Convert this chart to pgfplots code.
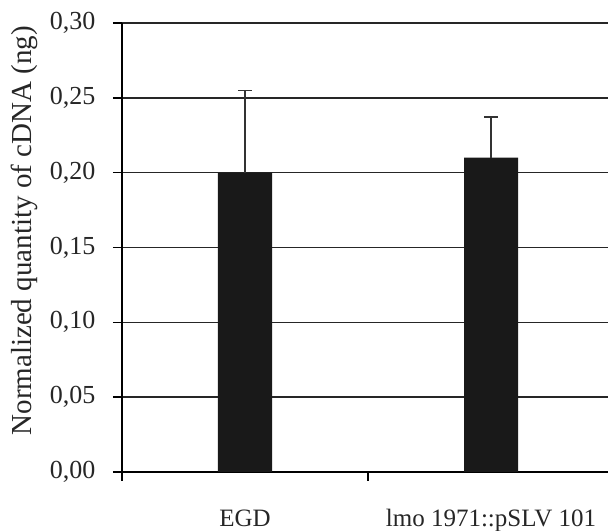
\documentclass[border=0pt]{standalone}
\usepackage{fontspec}
\setmainfont{Liberation Serif}
\usepackage{pgfplots}
\pgfplotsset{compat=1.18}
\begin{document}
\begin{tikzpicture}
\begin{axis}[
  name=ax,
  scale only axis,
  width=486pt, height=449pt,
  xmin=-0.5, xmax=1.4756,
  ymin=0, ymax=0.30,
  axis x line=bottom, axis y line=left,
  axis line style={black, line width=1.6pt, -},
  x axis line style={-}, y axis line style={-},
  tick align=outside,
  major tick length=9pt,
  tick style={black, line width=1.6pt},
  xtick={-0.5,0.5}, xticklabels={},
  extra x ticks={0,1},
  extra x tick labels={EGD, lmo 1971::pSLV 101},
  extra x tick style={major tick length=0pt, xticklabel style={yshift=-34pt, font=\fontsize{25}{30}\selectfont}},
  ytick={0,0.05,0.10,0.15,0.20,0.25,0.30},
  yticklabel style={xshift=-14pt, font=\fontsize{26}{30}\selectfont, /pgf/number format/.cd, use comma, fixed, fixed zerofill, precision=2, assume math mode=true},
  ymajorgrids,
  grid style={black!85, line width=1.6pt},
  every tick label/.append style={text=black!85},
  ylabel={Normalized quantity of cDNA (ng)},
  ylabel style={font=\fontsize{29}{34}\selectfont, text=black!85, at={(axis description cs:-0.2,0.537)}, anchor=center},
  clip=false,
]
\addplot[ybar, bar width=54pt, bar shift=0pt, fill=black!90, draw=none,
  error bars/.cd, y dir=plus, y explicit,
  error bar style={black!80, line width=1.4pt},
  error mark options={rotate=90, mark size=7pt, black!80, line width=1.6pt}]
  coordinates {(0,0.20) +- (0,0.055) (1,0.21) +- (0,0.027)};
\end{axis}
\pgfresetboundingbox
\path ([xshift=-122pt, yshift=-59pt]ax.south west) rectangle ([yshift=23pt]ax.north east);
\end{tikzpicture}
\end{document}
